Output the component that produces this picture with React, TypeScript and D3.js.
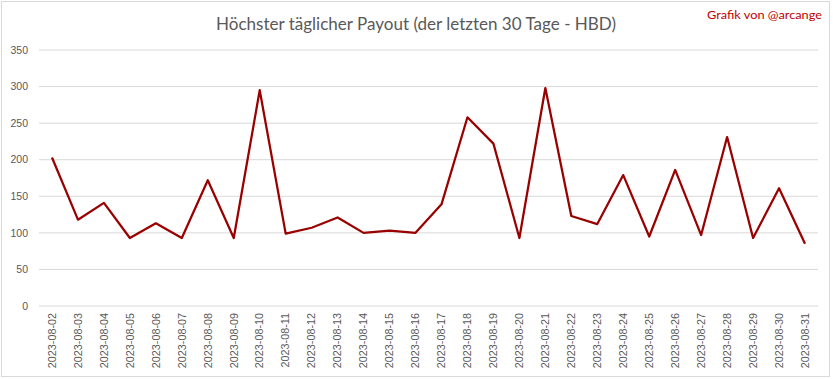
import React from "react";
import * as d3 from "d3";

const dates: string[] = [
  "2023-08-02", "2023-08-03", "2023-08-04", "2023-08-05", "2023-08-06",
  "2023-08-07", "2023-08-08", "2023-08-09", "2023-08-10", "2023-08-11",
  "2023-08-12", "2023-08-13", "2023-08-14", "2023-08-15", "2023-08-16",
  "2023-08-17", "2023-08-18", "2023-08-19", "2023-08-20", "2023-08-21",
  "2023-08-22", "2023-08-23", "2023-08-24", "2023-08-25", "2023-08-26",
  "2023-08-27", "2023-08-28", "2023-08-29", "2023-08-30", "2023-08-31",
];

const payouts: number[] = [
  203, 118, 141, 93, 113, 93, 172, 93, 295, 99,
  107, 121, 100, 103, 100, 139, 258, 222, 93, 298,
  123, 112, 179, 95, 186, 97, 231, 93, 161, 85,
];

const yTicks: number[] = [0, 50, 100, 150, 200, 250, 300, 350];

const title = "Höchster täglicher Payout (der letzten 30 Tage - HBD)";
const credit = "Grafik von @arcange";

const W = 833;
const H = 379;
const plot = { left: 39, right: 818, top: 50, bottom: 306 };

export default function App() {
  const x = d3
    .scaleBand<string>()
    .domain(dates)
    .range([plot.left, plot.right])
    .paddingInner(0)
    .paddingOuter(0);
  const y = d3.scaleLinear().domain([0, 350]).range([plot.bottom, plot.top]);

  const line = d3
    .line<number>()
    .x((_, i) => (x(dates[i]) as number) + x.bandwidth() / 2)
    .y((d) => y(d));

  const font = "'Liberation Sans', Arial, sans-serif";

  return (
    <svg
      width={W}
      height={H}
      style={{ position: "absolute", left: 0, top: 0, background: "#fff" }}
    >
      <rect x={0} y={0} width={W} height={H} fill="#fff" />
      <rect
        x={1.5}
        y={1.5}
        width={828}
        height={375}
        fill="#fff"
        stroke="#d9d9d9"
        strokeWidth={1}
      />
      <text
        x={416}
        y={30}
        textAnchor="middle"
        fontFamily="Lato, 'Open Sans', sans-serif"
        fontSize={17.5}
        fill="#595959"
        textLength={400}
        lengthAdjust="spacingAndGlyphs"
      >
        {title}
      </text>
      <text
        x={822}
        y={19}
        textAnchor="end"
        fontFamily="Lato, 'Open Sans', sans-serif"
        fontSize={11.5}
        fill="#c00000"
        textLength={115}
        lengthAdjust="spacingAndGlyphs"
      >
        {credit}
      </text>

      {yTicks.map((t) => (
        <g key={t}>
          <line
            x1={plot.left}
            x2={plot.right}
            y1={y(t)}
            y2={y(t)}
            stroke="#d9d9d9"
            strokeWidth={1}
          />
          <text
            x={28}
            y={y(t)}
            dy="0.35em"
            textAnchor="end"
            fontFamily={font}
            fontSize={10.5}
            fill="#595959"
          >
            {t}
          </text>
        </g>
      ))}

      {dates.map((d) => {
        const cx = (x(d) as number) + x.bandwidth() / 2;
        return (
          <text
            key={d}
            transform={`translate(${cx},313) rotate(-90)`}
            textAnchor="end"
            dy="0.35em"
            fontFamily={font}
            fontSize={10.8}
            fill="#595959"
          >
            {d}
          </text>
        );
      })}

      <path
        d={line(payouts) || ""}
        fill="none"
        stroke="#990000"
        strokeWidth={2.25}
        strokeLinejoin="round"
      />
    </svg>
  );
}
